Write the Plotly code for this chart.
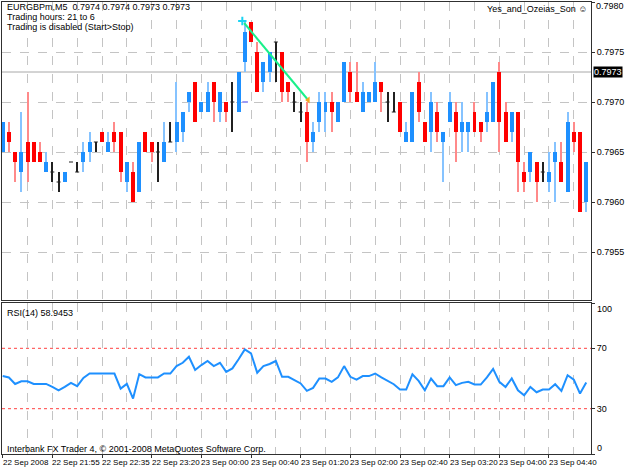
import plotly.graph_objects as go

# ---------------- data (EURGBPm, M5) ----------------
open_ = [0.7965, 0.7967, 0.7965, 0.7963, 0.7966, 0.7966, 0.7965, 0.7963, 0.7963, 0.7962,
         0.7962, 0.7964, 0.7963, 0.7964, 0.7965, 0.7966, 0.7967, 0.7965, 0.7967, 0.7967,
         0.7962, 0.7963, 0.7961, 0.7967, 0.7966, 0.7965, 0.7964, 0.7966, 0.7966, 0.7967,
         0.7970, 0.7972, 0.7969, 0.7969, 0.7972, 0.7969, 0.7970, 0.7970, 0.7969, 0.7974,
         0.7978, 0.7975, 0.7972, 0.7973, 0.7976, 0.7975, 0.7972, 0.7970, 0.7969, 0.7969,
         0.7966, 0.7968, 0.7969, 0.7970, 0.7968, 0.7970, 0.7973, 0.7971, 0.7969, 0.7970,
         0.7970, 0.7972, 0.7970, 0.7969, 0.7970, 0.7966, 0.7966, 0.7972, 0.7968, 0.7967,
         0.7969, 0.7966, 0.7968, 0.7969, 0.7967, 0.7967, 0.7969, 0.7968, 0.7968, 0.7968,
         0.7973, 0.7969, 0.7967, 0.7969, 0.7963, 0.7963, 0.7964, 0.7963, 0.7962, 0.7964,
         0.7964, 0.7961, 0.7967, 0.7967, 0.7960]
high = [0.7968, 0.7968, 0.7965, 0.7969, 0.7971, 0.7966, 0.7966, 0.7965, 0.7964, 0.7963,
        0.7963, 0.7964, 0.7964, 0.7966, 0.7967, 0.7966, 0.7967, 0.7967, 0.7968, 0.7967,
        0.7964, 0.7964, 0.7966, 0.7967, 0.7966, 0.7966, 0.7968, 0.7968, 0.7972, 0.7969,
        0.7971, 0.7972, 0.7970, 0.7972, 0.7972, 0.7971, 0.7970, 0.7972, 0.7973, 0.7978,
        0.7978, 0.7976, 0.7974, 0.7975, 0.7976, 0.7975, 0.7972, 0.7971, 0.7970, 0.7970,
        0.7968, 0.7971, 0.7971, 0.7971, 0.7970, 0.7974, 0.7974, 0.7974, 0.7972, 0.7971,
        0.7974, 0.7972, 0.7971, 0.7971, 0.7970, 0.7968, 0.7971, 0.7973, 0.7968, 0.7971,
        0.7970, 0.7967, 0.7971, 0.7970, 0.7970, 0.7968, 0.7970, 0.7968, 0.7971, 0.7972,
        0.7974, 0.7970, 0.7969, 0.7969, 0.7964, 0.7965, 0.7964, 0.7964, 0.7965, 0.7966,
        0.7966, 0.7969, 0.7968, 0.7967, 0.7964]
low = [0.7965, 0.7965, 0.7962, 0.7961, 0.7962, 0.7964, 0.7964, 0.7963, 0.7962, 0.7961,
       0.7962, 0.7964, 0.7963, 0.7963, 0.7964, 0.7965, 0.7966, 0.7965, 0.7965, 0.7962,
       0.7961, 0.7960, 0.7961, 0.7965, 0.7964, 0.7962, 0.7964, 0.7966, 0.7965, 0.7966,
       0.7969, 0.7968, 0.7969, 0.7969, 0.7968, 0.7968, 0.7968, 0.7967, 0.7969, 0.7973,
       0.7976, 0.7971, 0.7971, 0.7972, 0.7972, 0.7970, 0.7970, 0.7969, 0.7968, 0.7964,
       0.7965, 0.7967, 0.7967, 0.7967, 0.7968, 0.7970, 0.7970, 0.7970, 0.7969, 0.7970,
       0.7970, 0.7969, 0.7968, 0.7969, 0.7967, 0.7966, 0.7966, 0.7968, 0.7966, 0.7965,
       0.7966, 0.7962, 0.7968, 0.7964, 0.7965, 0.7965, 0.7967, 0.7966, 0.7967, 0.7968,
       0.7965, 0.7966, 0.7966, 0.7961, 0.7961, 0.7962, 0.7960, 0.7962, 0.7961, 0.7960,
       0.7962, 0.7961, 0.7965, 0.7959, 0.7959]
close = [0.7968, 0.7966, 0.7964, 0.7965, 0.7964, 0.7964, 0.7964, 0.7964, 0.7963, 0.7962,
         0.7963, 0.7964, 0.7963, 0.7965, 0.7966, 0.7966, 0.7966, 0.7966, 0.7966, 0.7963,
         0.7964, 0.7960, 0.7966, 0.7965, 0.7965, 0.7965, 0.7966, 0.7966, 0.7968, 0.7969,
         0.7971, 0.7968, 0.7970, 0.7971, 0.7970, 0.7971, 0.7969, 0.7970, 0.7973, 0.7977,
         0.7976, 0.7971, 0.7974, 0.7975, 0.7976, 0.7971, 0.7971, 0.7970, 0.7969, 0.7966,
         0.7967, 0.7970, 0.7970, 0.7969, 0.7970, 0.7974, 0.7971, 0.7970, 0.7971, 0.7971,
         0.7972, 0.7971, 0.7970, 0.7969, 0.7967, 0.7967, 0.7971, 0.7969, 0.7966, 0.7970,
         0.7967, 0.7967, 0.7970, 0.7967, 0.7968, 0.7968, 0.7967, 0.7967, 0.7969, 0.7972,
         0.7968, 0.7966, 0.7969, 0.7964, 0.7962, 0.7965, 0.7962, 0.7963, 0.7963, 0.7965,
         0.7962, 0.7968, 0.7966, 0.7959, 0.7964]
rsi = [51.6, 50.7, 46.4, 48.2, 48.2, 46.4, 46.4, 46.4, 44.4, 42.2,
       44.4, 47.1, 44.9, 50.4, 53.3, 53.3, 53.3, 53.3, 53.3, 43.3,
       46.4, 36.7, 52.9, 50.7, 50.7, 50.7, 53.3, 53.3, 58.2, 60.4,
       64.4, 55.6, 58.9, 61.6, 58.2, 60.4, 54.4, 56.7, 62.7, 69.3,
       66.7, 53.8, 58.2, 59.6, 61.6, 51.1, 51.1, 48.9, 46.7, 41.8,
       43.8, 50.0, 50.0, 47.8, 50.7, 58.2, 51.1, 49.3, 51.6, 51.6,
       53.3, 50.7, 48.4, 46.2, 42.7, 42.7, 52.7, 48.4, 42.2, 50.0,
       44.9, 44.9, 50.7, 45.6, 47.1, 47.8, 46.0, 46.0, 50.7, 56.4,
       47.8, 44.4, 50.0, 42.2, 38.9, 44.4, 40.9, 42.7, 42.7, 46.2,
       41.8, 52.2, 49.3, 40.0, 47.3]

time_labels = ["22 Sep 2008", "22 Sep 21:55", "22 Sep 22:35", "22 Sep 23:20",
               "23 Sep 00:00", "23 Sep 00:40", "23 Sep 01:20", "23 Sep 02:00",
               "23 Sep 02:40", "23 Sep 03:20", "23 Sep 04:00", "23 Sep 04:40"]
time_label_bars = [0, 8, 16, 24, 32, 40, 48, 56, 64, 72, 80, 88]

price_ticks = [0.7955, 0.7960, 0.7965, 0.7970, 0.7975]
price_top = 0.7980
bid_price = 0.7973
rsi_levels = [30, 70]
trend_x = [38.9, 49.2]
trend_y = [0.79779, 0.79702]
arrow_x = [38.6]
arrow_y = [0.79781]
mark_x = [38.6, 39.5]
mark_y = [0.79700, 0.79700]

# ---------------- geometry ----------------
W, H = 625, 469
ML, MR, MT, MB = 1, 31, 2, 15
PW = W - ML - MR
PH = H - MT - MB
BAR_PX = 6.25
x0 = -(1.7 - ML) / BAR_PX
x1 = x0 + PW / BAR_PX


def py(ypx):
    return (H - MB - ypx) / PH


def px(xpx):
    return (xpx - ML) / PW


FONT = "Liberation Sans Narrow, Arial Narrow, Liberation Sans, Arial, sans-serif"
BLUE = "#1E90FF"
RED = "#FF0000"

n = len(open_)
idx = list(range(n))
body_base = [min(o, c) for o, c in zip(open_, close)]
body_h = [abs(c - o) for o, c in zip(open_, close)]
body_col = [BLUE if c > o else RED for o, c in zip(open_, close)]
wick_col = ["#86c3ff" if c > o else ("#ff8a8a" if c < o else "#202020")
            for o, c in zip(open_, close)]

fig = go.Figure()

# wicks
fig.add_trace(go.Bar(x=idx, y=[h - l for h, l in zip(high, low)], base=low,
                     width=0.17, marker=dict(color=wick_col, line=dict(width=0)),
                     xaxis="x", yaxis="y", showlegend=False, hoverinfo="skip"))
# bodies
fig.add_trace(go.Bar(x=idx, y=body_h, base=body_base, width=0.64,
                     marker=dict(color=body_col, line=dict(width=0)),
                     xaxis="x", yaxis="y", showlegend=False))

# doji crossbars
dx, dy = [], []
for i, o, c in zip(idx, open_, close):
    if o == c:
        dx += [i - 0.32, i + 0.32, None]
        dy += [o, o, None]
fig.add_trace(go.Scatter(x=dx, y=dy, mode="lines", line=dict(color="#202020", width=1),
                         xaxis="x", yaxis="y", showlegend=False, hoverinfo="skip"))

# trend line and markers
fig.add_trace(go.Scatter(x=trend_x, y=trend_y, mode="lines",
                         line=dict(color="#19f08a", width=2),
                         xaxis="x", yaxis="y", showlegend=False))
fig.add_trace(go.Scatter(x=[trend_x[1]], y=[trend_y[1]], mode="markers",
                         marker=dict(symbol="triangle-left", size=6, color="#f5a623"),
                         xaxis="x", yaxis="y", showlegend=False))
fig.add_trace(go.Scatter(x=arrow_x, y=arrow_y, mode="markers",
                         marker=dict(symbol="cross-thin-open", size=6,
                                     line=dict(color=RED, width=2)),
                         xaxis="x", yaxis="y", showlegend=False))
fig.add_trace(go.Scatter(x=mark_x, y=mark_y, mode="lines",
                         line=dict(color="#9c9cf5", width=2),
                         xaxis="x", yaxis="y", showlegend=False))

# RSI
fig.add_trace(go.Scatter(x=idx, y=rsi, mode="lines", line=dict(color=BLUE, width=2),
                         xaxis="x2", yaxis="y2", showlegend=False))

grid = dict(showgrid=True, gridcolor="#c4c4c4", griddash="dash", gridwidth=1)
main_bottom = py(300)
rsi_top = py(303)

fig.update_layout(
    width=W, height=H,
    margin=dict(l=ML, r=MR, t=MT, b=MB, pad=0),
    paper_bgcolor="white", plot_bgcolor="white",
    barmode="overlay", bargap=0,
    font=dict(family=FONT, size=9, color="black"),
    xaxis=dict(domain=[0, 1], anchor="y", range=[x0, x1],
               tickmode="linear", tick0=0, dtick=4, showticklabels=False, ticks="",
               showline=True, mirror=True, linecolor="#303030", linewidth=1,
               zeroline=False, **grid),
    xaxis2=dict(domain=[0, 1], anchor="y2", range=[x0, x1], matches="x",
                tickmode="linear", tick0=0, dtick=8, showticklabels=False,
                ticks="outside", ticklen=3, tickcolor="#303030",
                minor=dict(dtick=4, tick0=0, showgrid=True, gridcolor="#c4c4c4",
                           griddash="dash", ticks=""),
                showline=True, mirror=True, linecolor="#303030", linewidth=1,
                zeroline=False, **grid),
    yaxis=dict(domain=[main_bottom, 1], anchor="x", range=[0.79502, price_top],
               side="right", tickmode="array", tickvals=price_ticks + [price_top],
               ticktext=["%.4f" % v for v in price_ticks] + [""],
               ticks="outside", ticklen=3, tickcolor="#303030",
               showline=True, mirror=True, linecolor="#303030", linewidth=1,
               zeroline=False, **grid),
    yaxis2=dict(domain=[0, rsi_top], anchor="x2", range=[0, 100],
                side="right", tickmode="array", tickvals=[0, 30, 70, 100],
                ticktext=["", "30", "70", ""],
                ticks="outside", ticklen=3, tickcolor="#303030",
                showline=True, mirror=True, linecolor="#303030", linewidth=1,
                showgrid=False, zeroline=False),
)

# bid line
fig.add_shape(type="line", xref="x domain", yref="y", x0=0, x1=1, y0=bid_price,
              y1=bid_price, line=dict(color="#a8a8a8", width=1), layer="below")
# RSI levels
for lv in rsi_levels:
    fig.add_shape(type="line", xref="x2 domain", yref="y2", x0=0, x1=1, y0=lv, y1=lv,
                  line=dict(color="#ff4040", width=1, dash="dot"), layer="below")

ann = []
ann.append(dict(x=1, xref="paper", xanchor="left", xshift=2, y=bid_price, yref="y",
                text="%.4f" % bid_price, showarrow=False, bgcolor="black",
                font=dict(color="white", size=9, family=FONT), borderpad=0))
ann.append(dict(x=1, xref="paper", xanchor="left", xshift=3, y=price_top, yref="y",
                yanchor="top", yshift=3, text="%.4f" % price_top, showarrow=False))
ann.append(dict(x=1, xref="paper", xanchor="left", xshift=4, y=100, yref="y2",
                yanchor="top", yshift=1, text="100", showarrow=False))
ann.append(dict(x=1, xref="paper", xanchor="left", xshift=4, y=0, yref="y2",
                yanchor="bottom", yshift=-1, text="0", showarrow=False))

for b, t in zip(time_label_bars, time_labels):
    ann.append(dict(x=b, xref="x2", y=0, yref="paper", xanchor="left", yanchor="top",
                    xshift=-2, yshift=-2, text=t, showarrow=False,
                    font=dict(size=8, family=FONT)))

texts_left = [("EURGBPm,M5  0.7974 0.7974 0.7973 0.7973", 6.5),
              ("Trading hours: 21 to 6", 17),
              ("Trading is disabled (Start>Stop)", 27.5),
              ("RSI(14) 58.9453", 313.5),
              ("Interbank FX Trader 4, © 2001-2008 MetaQuotes Software Corp.", 449)]
for t, ypx in texts_left:
    ann.append(dict(x=px(4), xref="paper", y=py(ypx), yref="paper", xanchor="left",
                    yanchor="middle", text=t, showarrow=False))
ann.append(dict(x=px(592), xref="paper", y=py(9), yref="paper", xanchor="right",
                yanchor="middle", text="Yes_and_Ozeias_Son ☺", showarrow=False))

fig.update_layout(annotations=ann)

fig.write_html("out.html")
